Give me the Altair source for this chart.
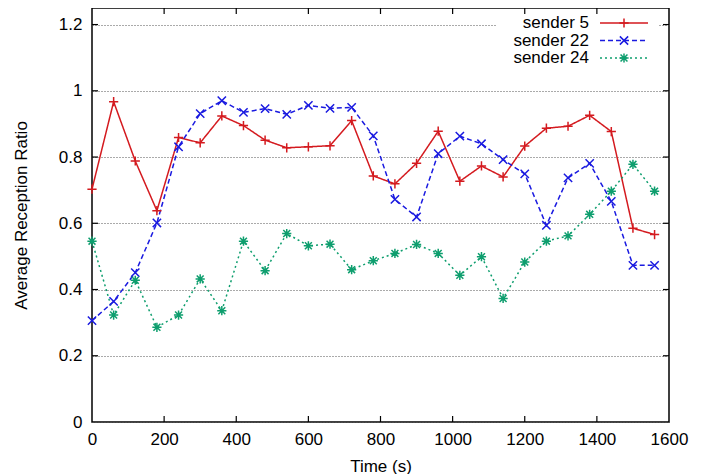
import altair as alt
import pandas as pd

FONT = "Liberation Sans"

times = [0, 60, 120, 180, 240, 300, 360, 420, 480, 540, 600, 660, 720, 780,
         840, 900, 960, 1020, 1080, 1140, 1200, 1260, 1320, 1380, 1440, 1500, 1560]
sender5 = [0.703, 0.967, 0.788, 0.638, 0.859, 0.843, 0.924, 0.895, 0.851, 0.828,
           0.831, 0.834, 0.910, 0.743, 0.719, 0.781, 0.878, 0.727, 0.773, 0.740,
           0.833, 0.887, 0.893, 0.926, 0.877, 0.585, 0.566]
sender22 = [0.306, 0.364, 0.451, 0.601, 0.831, 0.931, 0.970, 0.935, 0.946, 0.929,
            0.956, 0.947, 0.950, 0.864, 0.672, 0.619, 0.810, 0.863, 0.840, 0.792,
            0.749, 0.594, 0.737, 0.781, 0.666, 0.473, 0.473]
sender24 = [0.546, 0.323, 0.428, 0.286, 0.323, 0.432, 0.336, 0.546, 0.457, 0.569,
            0.532, 0.537, 0.460, 0.487, 0.509, 0.536, 0.509, 0.443, 0.499, 0.373,
            0.483, 0.546, 0.562, 0.627, 0.697, 0.778, 0.697]

names = ["sender 5", "sender 22", "sender 24"]
colors = ["#d41a1f", "#1a1ae0", "#0e9e6e"]
dashes = [[1, 0], [5, 3], [2, 3]]
shapes = [
    "M-1,0L1,0M0,-1L0,1",
    "M-0.9,-0.9L0.9,0.9M-0.9,0.9L0.9,-0.9",
    "M-1,0L1,0M0,-1L0,1M-0.75,-0.75L0.75,0.75M-0.75,0.75L0.75,-0.75",
]

x_ticks = [0, 200, 400, 600, 800, 1000, 1200, 1400, 1600]
y_ticks = [0, 0.2, 0.4, 0.6, 0.8, 1, 1.2]
x_inner_ticks = [200, 400, 600, 800, 1000, 1200, 1400]
y_inner_ticks = [0.2, 0.4, 0.6, 0.8, 1, 1.2]

W, H = 577, 414

rows = []
for name, vals in zip(names, [sender5, sender22, sender24]):
    for t, v in zip(times, vals):
        rows.append({"time": t, "ratio": v, "series": name})
df = pd.DataFrame(rows)

xscale = alt.Scale(domain=[0, 1600], nice=False, zero=False)
yscale = alt.Scale(domain=[0, 1.25], nice=False, zero=False)

x_axis = alt.Axis(values=x_ticks, title="Time (s)", grid=False, ticks=False, domain=False,
                  labelFontSize=17, titleFontSize=17, labelFont=FONT, titleFont=FONT,
                  titleFontWeight="normal", labelColor="black", titleColor="black",
                  labelPadding=9, titlePadding=11, labelFlush=False, format="d")
y_axis = alt.Axis(values=y_ticks, title="Average Reception Ratio", grid=True, gridDash=[1, 2],
                  gridColor="#555555", gridWidth=1, ticks=False, domain=False,
                  labelFontSize=17, titleFontSize=17, labelFont=FONT, titleFont=FONT,
                  titleFontWeight="normal", labelColor="black", titleColor="black",
                  labelPadding=10, titlePadding=28, labelFlush=False, format="~g")

X = alt.X("time:Q", scale=xscale, axis=x_axis)
Y = alt.Y("ratio:Q", scale=yscale, axis=y_axis)

color = alt.Color("series:N", scale=alt.Scale(domain=names, range=colors), legend=None)

lines = alt.Chart(df).mark_line(strokeWidth=1.5, clip=True).encode(
    x=X, y=Y, color=color,
    strokeDash=alt.StrokeDash("series:N", scale=alt.Scale(domain=names, range=dashes), legend=None),
    detail="series:N",
)

points = alt.Chart(df).mark_point(filled=False, size=85, strokeWidth=1.5, opacity=1).encode(
    x=X, y=Y, color=color,
    shape=alt.Shape("series:N", scale=alt.Scale(domain=names, range=shapes), legend=None),
)

mask = alt.Chart(pd.DataFrame({"a": [0]})).mark_rect(color="white").encode(
    x=alt.value(405), x2=alt.value(566), y=alt.value(6), y2=alt.value(58)
)

xt = pd.DataFrame({"time": x_inner_ticks})
yt = pd.DataFrame({"ratio": y_inner_ticks})
tick_style = dict(color="black", strokeWidth=1.2)
xt_top = alt.Chart(xt).mark_rule(**tick_style).encode(x=X, y=alt.value(0), y2=alt.value(6))
xt_bot = alt.Chart(xt).mark_rule(**tick_style).encode(x=X, y=alt.value(H - 6), y2=alt.value(H))
yt_left = alt.Chart(yt).mark_rule(**tick_style).encode(y=Y, x=alt.value(0), x2=alt.value(6))
yt_right = alt.Chart(yt).mark_rule(**tick_style).encode(y=Y, x=alt.value(W - 6), x2=alt.value(W))

legend_layers = []
for i, (name, col, dash, shp) in enumerate(zip(names, colors, dashes, shapes)):
    yy = 15 + 17.5 * i
    d = pd.DataFrame({"label": [name]})
    legend_layers.append(
        alt.Chart(d).mark_text(align="right", baseline="middle", fontSize=17, font=FONT,
                               color="black").encode(
            x=alt.value(497), y=alt.value(yy), text="label:N"))
    legend_layers.append(
        alt.Chart(d).mark_rule(color=col, strokeDash=dash, strokeWidth=1.5).encode(
            x=alt.value(508), x2=alt.value(556), y=alt.value(yy)))
    legend_layers.append(
        alt.Chart(d).mark_point(shape=shp, filled=False, size=85, strokeWidth=1.5,
                                color=col, opacity=1).encode(
            x=alt.value(532), y=alt.value(yy)))

chart = alt.layer(lines, mask, points, xt_top, xt_bot, yt_left, yt_right,
                  *legend_layers).properties(
    width=W, height=H,
    background="white",
    autosize=alt.AutoSizeParams(type="none"),
    padding={"left": 84, "top": 0, "right": 31, "bottom": 52},
).configure_view(stroke="black", strokeWidth=1.5)

chart.save("out.html", embed_options={"renderer": "svg", "actions": False})
